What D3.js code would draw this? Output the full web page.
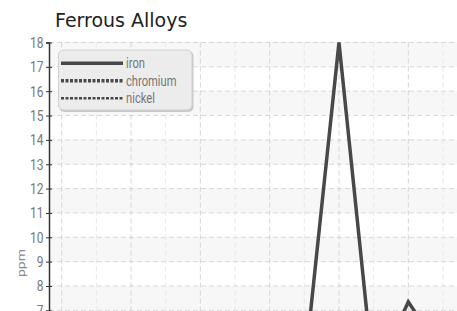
<!DOCTYPE html>
<html>
<head>
<meta charset="utf-8">
<script src="https://cdn.jsdelivr.net/npm/d3@7"></script>
<style>
	html, body { margin: 0; padding: 0; overflow: hidden; background: #fff; }
	.tick text, .legend text, .ylabel { font-family: "Roboto", "Liberation Sans", sans-serif; }
</style>
</head>
<body>
<div class="chart"></div>
<script>
const categories = ["1", "2", "3", "4", "5", "6", "7", "8", "9", "10", "11", "12", "13", "14"];
const iron = [3.2, 2.8, 4.1, 3.5, 2.6, 5.1, 3.9, 4.5, 18, 4.2, 7.35, 5.2, 3.8, 4.4];
const chromium = [1.8, 2.3, 1.6, 2.9, 2.1, 1.4, 2.6, 2.0, 3.1, 1.7, 2.4, 1.9, 2.2, 1.5];
const nickel = [0.9, 1.2, 0.7, 1.4, 1.1, 0.8, 1.3, 1.0, 1.5, 0.6, 1.2, 0.9, 1.1, 0.8];
const seriesNames = ["iron", "chromium", "nickel"];
const yTicks = [0, 1, 2, 3, 4, 5, 6, 7, 8, 9, 10, 11, 12, 13, 14, 15, 16, 17, 18];

const width = 457, height = 520;
const plot = { left: 49, top: 42.5, right: 540, bottom: 480.8 };
const squeeze = 0.8; // condensed look for the small texts

const svg = d3.select(".chart")
	.append("svg")
	.attr("width", width)
	.attr("height", height);

// title
svg.append("text")
	.attr("x", 55)
	.attr("y", 27)
	.style("font-family", "'DejaVu Sans', sans-serif")
	.style("font-size", "19px")
	.style("fill", "#222")
	.text("Ferrous Alloys");

const x = d3.scalePoint()
	.domain(categories)
	.range([61.7, 61.7 + 34.66 * (categories.length - 1)]);
const y = d3.scaleLinear()
	.domain([0, 18])
	.range([plot.bottom, plot.top]);

// alternating bands
svg.append("g")
	.selectAll("rect")
	.data(yTicks.filter((t) => t > 0 && t % 2 === 0))
	.enter()
	.append("rect")
		.attr("x", plot.left)
		.attr("y", (d) => y(d))
		.attr("width", plot.right - plot.left)
		.attr("height", (d) => y(d - 1) - y(d))
		.style("fill", "#f7f7f7");

// grid
svg.append("g")
	.selectAll("line")
	.data(yTicks)
	.enter()
	.append("line")
		.attr("x1", plot.left)
		.attr("x2", plot.right)
		.attr("y1", (d) => y(d))
		.attr("y2", (d) => y(d))
		.style("stroke", "#d8d8d8")
		.style("stroke-dasharray", "5,3");

svg.append("g")
	.selectAll("line")
	.data(categories)
	.enter()
	.append("line")
		.attr("x1", (d) => x(d))
		.attr("x2", (d) => x(d))
		.attr("y1", plot.top)
		.attr("y2", plot.bottom)
		.style("stroke", (d, i) => i % 2 === 0 ? "#d4d4d4" : "#e8e8e8")
		.style("stroke-dasharray", "5,3");

// y axis
const yAxis = svg.append("g")
	.attr("transform", `translate(${plot.left},0)`)
	.call(d3.axisLeft(y).tickValues(yTicks).tickSize(3).tickPadding(3));
yAxis.select(".domain").style("stroke", "#333").style("stroke-width", 1.5);
yAxis.selectAll(".tick line").attr("x1", -3).attr("x2", 3).style("stroke", "#333");
yAxis.selectAll(".tick text")
	.attr("x", -5.5 / squeeze)
	.attr("transform", `scale(${squeeze},1)`)
	.style("font-size", "15px")
	.style("fill", "#777");

svg.append("text")
	.attr("class", "ylabel")
	.attr("transform", `translate(25,263) rotate(-90) scale(1,${squeeze})`)
	.attr("text-anchor", "middle")
	.style("font-size", "14px")
	.style("fill", "#888")
	.text("ppm");

// series
const styles = {
	iron: { w: 3.5, dash: null },
	chromium: { w: 3.5, dash: "3,1.5" },
	nickel: { w: 2.5, dash: "3,1.5" }
};
const values = { iron: iron, chromium: chromium, nickel: nickel };

svg.append("defs").append("clipPath")
	.attr("id", "clip")
	.append("rect")
		.attr("x", plot.left)
		.attr("y", plot.top - 2)
		.attr("width", plot.right - plot.left)
		.attr("height", plot.bottom - plot.top + 2);

const line = d3.line()
	.x((d, i) => x(categories[i]))
	.y((d) => y(d));

svg.append("g")
	.attr("clip-path", "url(#clip)")
	.selectAll("path")
	.data(seriesNames.slice().reverse())
	.enter()
	.append("path")
		.attr("d", (name) => line(values[name]))
		.style("fill", "none")
		.style("stroke", "#484848")
		.style("stroke-width", (name) => styles[name].w)
		.style("stroke-dasharray", (name) => styles[name].dash)
		.style("stroke-linejoin", "miter");

// legend
const legend = svg.append("g").attr("class", "legend");
legend.append("rect")
	.attr("x", 59.5).attr("y", 51)
	.attr("width", 134).attr("height", 61)
	.attr("rx", 5)
	.style("fill", "#c8c8c8");
legend.append("rect")
	.attr("x", 58.5).attr("y", 50)
	.attr("width", 133.5).attr("height", 60)
	.attr("rx", 5)
	.style("fill", "#ececec")
	.style("stroke", "#d0d0d0");

const rows = legend.selectAll("g.row")
	.data(seriesNames)
	.enter()
	.append("g")
		.attr("class", "row")
		.attr("transform", (d, i) => `translate(0,${63.3 + i * 17.5})`);
rows.append("line")
	.attr("x1", 61).attr("x2", 123)
	.style("stroke", "#484848")
	.style("stroke-width", (name) => styles[name].w)
	.style("stroke-dasharray", (name) => styles[name].dash);
rows.append("text")
	.attr("x", 126 / squeeze)
	.attr("dy", "0.35em")
	.attr("transform", `scale(${squeeze},1)`)
	.style("font-size", "14px")
	.style("fill", "#777")
	.text((d) => d);
</script>
</body>
</html>
